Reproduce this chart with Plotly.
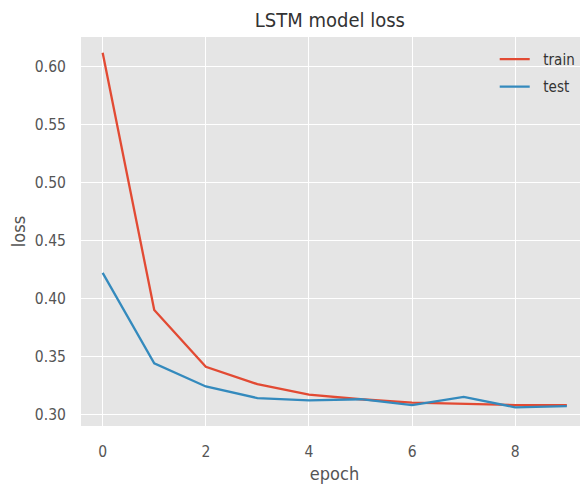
import plotly.graph_objects as go

epochs = [0, 1, 2, 3, 4, 5, 6, 7, 8, 9]
train_loss = [0.612, 0.390, 0.341, 0.326, 0.317, 0.313, 0.310, 0.309, 0.308, 0.308]
test_loss = [0.422, 0.344, 0.324, 0.314, 0.312, 0.313, 0.308, 0.315, 0.306, 0.307]
x_ticks = [0, 2, 4, 6, 8]
y_ticks = [0.30, 0.35, 0.40, 0.45, 0.50, 0.55, 0.60]

FONT = "Liberation Sans Narrow, DejaVu Sans Condensed, Roboto, sans-serif"
NB = "\u00a0\u00a0"

fig = go.Figure()
fig.add_trace(go.Scatter(x=epochs, y=train_loss, mode="lines", name=NB + "train",
                         legendgroup="a", line=dict(color="#E24A33", width=2.3)))
fig.add_trace(go.Scatter(x=epochs, y=test_loss, mode="lines", name=NB + "test",
                         legendgroup="b", line=dict(color="#348ABD", width=2.3)))

fig.update_layout(
    width=580, height=481,
    margin=dict(l=73, r=0, t=29, b=63, autoexpand=False),
    paper_bgcolor="white",
    plot_bgcolor="#E5E5E5",
    font=dict(family=FONT, color="#555555", size=15.5),
    title=dict(text="LSTM model loss", x=0.555, xanchor="center", y=0.975, yanchor="middle",
               font=dict(size=20, color="#333333", family=FONT), automargin=False),
    showlegend=True,
    legend=dict(x=0.816, y=0.985, xanchor="left", yanchor="top",
                bgcolor="rgba(0,0,0,0)", font=dict(size=15, color="#333333", family=FONT),
                tracegroupgap=5),
    xaxis=dict(range=[-0.42, 9.41], tickvals=x_ticks, ticktext=[str(v) for v in x_ticks],
               showgrid=True, gridcolor="white", gridwidth=1.2, zeroline=False,
               showline=False, ticks="outside", ticklen=11, tickcolor="rgba(0,0,0,0)",
               automargin=False,
               title=dict(text="epoch", font=dict(size=18, color="#555555"), standoff=7)),
    yaxis=dict(range=[0.2899, 0.6256], tickvals=y_ticks, ticktext=[f"{v:.2f}" for v in y_ticks],
               showgrid=True, gridcolor="white", gridwidth=1.2, zeroline=False,
               showline=False, ticks="outside", ticklen=11, tickcolor="rgba(0,0,0,0)",
               automargin=False,
               title=dict(text="loss", font=dict(size=18, color="#555555"), standoff=5)),
)

fig.write_html("out.html")
